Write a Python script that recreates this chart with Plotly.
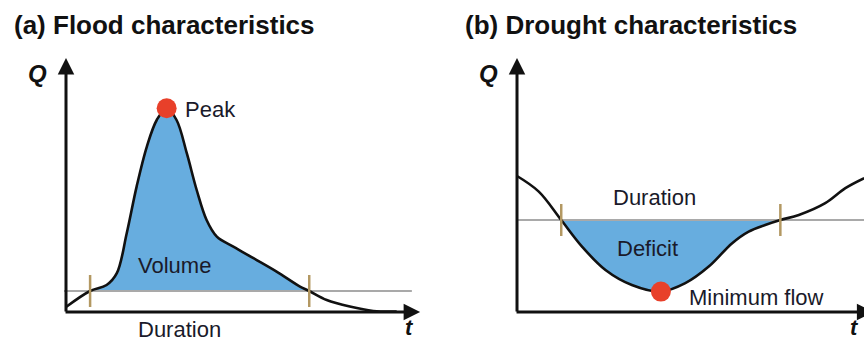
import plotly.graph_objects as go

# ---------------- data ----------------
# (a) Flood hydrograph
flood_t = [0.0, 0.73, 1.23, 1.54, 1.84, 2.14, 2.45, 2.75, 3.05, 3.35, 3.66, 3.96,
           4.26, 4.57, 5.07, 5.68, 6.38, 7.09, 7.37, 7.90, 8.60, 9.31, 10.02]
flood_q = [0.25, 1.05, 1.35, 1.94, 3.94, 6.27, 8.27, 9.60, 10.19, 9.60, 7.94, 6.10,
           4.60, 3.77, 3.27, 2.69, 2.02, 1.27, 1.05, 0.60, 0.27, 0.05, 0.02]
flood_threshold = 1.05
flood_start, flood_end = 0.73, 7.37
flood_peak = (3.05, 10.19)

# (b) Drought hydrograph
drought_t = [0.0, 0.66, 1.34, 1.97, 2.68, 3.48, 4.36, 5.10, 5.81, 6.52, 7.02, 7.52,
             7.98, 8.54, 9.34, 9.95, 10.52]
drought_q = [6.80, 6.02, 4.60, 3.27, 2.10, 1.35, 1.02, 1.44, 2.27, 3.44, 4.02, 4.35,
             4.60, 4.85, 5.44, 6.19, 6.69]
drought_threshold = 4.60
drought_start, drought_end = 1.34, 7.98
drought_min = (4.36, 1.02)

titles = ["(a) Flood characteristics", "(b) Drought characteristics"]

# ---------------- styles ----------------
FILL = "#67ADDF"
CURVE = "#111111"
THR = "#A9A9A9"
TICK = "#B39862"
DOT = "#E8402A"
FONT = "Liberation Sans, Arial, sans-serif"
LBL = dict(family=FONT, size=22, color="#1a1a2a")

fig = go.Figure()


def panel(xa, ya, t, q, thr, t1, t2, dot, x_end, thr_range):
    xr, yr = xa.replace("axis", ""), ya.replace("axis", "")
    sub = [(a, b) for a, b in zip(t, q) if t1 - 1e-9 <= a <= t2 + 1e-9]
    # fill between threshold and curve over the event
    fig.add_trace(go.Scatter(x=[t1, t2], y=[thr, thr], mode="lines",
                             line=dict(width=0, color=THR), xaxis=xr, yaxis=yr,
                             hoverinfo="skip", showlegend=False))
    fig.add_trace(go.Scatter(x=[s[0] for s in sub], y=[s[1] for s in sub], mode="lines",
                             line=dict(width=0, shape="spline", color=FILL),
                             fill="tonexty", fillcolor=FILL, xaxis=xr, yaxis=yr,
                             hoverinfo="skip", showlegend=False))
    # threshold line
    fig.add_trace(go.Scatter(x=list(thr_range), y=[thr, thr], mode="lines",
                             line=dict(width=2, color=THR), xaxis=xr, yaxis=yr,
                             hoverinfo="skip", showlegend=False))
    # hydrograph
    fig.add_trace(go.Scatter(x=t, y=q, mode="lines",
                             line=dict(width=2.6, shape="spline", color=CURVE),
                             xaxis=xr, yaxis=yr, hoverinfo="skip", showlegend=False))
    # duration ticks
    for tt in (t1, t2):
        fig.add_trace(go.Scatter(x=[tt, tt], y=[thr - 0.8, thr + 0.8], mode="lines",
                                 line=dict(width=2.5, color=TICK), xaxis=xr, yaxis=yr,
                                 hoverinfo="skip", showlegend=False))
    # peak / minimum dot
    fig.add_trace(go.Scatter(x=[dot[0]], y=[dot[1]], mode="markers",
                             marker=dict(size=20, color=DOT), xaxis=xr, yaxis=yr,
                             hoverinfo="skip", showlegend=False))
    # axes with arrows
    fig.add_annotation(x=0, y=12.7, ax=0, ay=-0.05, xref=xr, yref=yr, axref=xr, ayref=yr,
                       text="", showarrow=True, arrowhead=2, arrowsize=1.1,
                       arrowwidth=3, arrowcolor="#111111")
    fig.add_annotation(x=x_end, y=0, ax=-0.06, ay=0, xref=xr, yref=yr, axref=xr, ayref=yr,
                       text="", showarrow=True, arrowhead=2, arrowsize=1.1,
                       arrowwidth=3, arrowcolor="#111111")
    # axis letters
    fig.add_annotation(x=-0.85, y=11.95, xref=xr, yref=yr, text="<b><i>Q</i></b>",
                       showarrow=False, font=dict(family=FONT, size=24, color="#111111"))


panel("xaxis", "yaxis", flood_t, flood_q, flood_threshold, flood_start, flood_end,
      flood_peak, 10.73, (-0.06, 10.48))
panel("xaxis2", "yaxis2", drought_t, drought_q, drought_threshold, drought_start,
      drought_end, drought_min, 10.8, (0.0, 10.6))

# t labels
fig.add_annotation(x=10.42, y=-0.78, xref="x", yref="y", text="<b><i>t</i></b>",
                   showarrow=False, font=dict(family=FONT, size=22, color="#111111"))
fig.add_annotation(x=10.22, y=-0.78, xref="x2", yref="y2", text="<b><i>t</i></b>",
                   showarrow=False, font=dict(family=FONT, size=22, color="#111111"))

# panel (a) labels
fig.add_annotation(x=3.55, y=10.15, xref="x", yref="y", text="Peak", xanchor="left",
                   showarrow=False, font=LBL)
fig.add_annotation(x=3.30, y=2.35, xref="x", yref="y", text="Volume",
                   showarrow=False, font=LBL)
fig.add_annotation(x=3.45, y=-0.85, xref="x", yref="y", text="Duration",
                   showarrow=False, font=LBL)
# panel (b) labels
fig.add_annotation(x=4.18, y=5.75, xref="x2", yref="y2", text="Duration",
                   showarrow=False, font=LBL)
fig.add_annotation(x=3.94, y=3.2, xref="x2", yref="y2", text="Deficit",
                   showarrow=False, font=LBL)
fig.add_annotation(x=5.15, y=0.75, xref="x2", yref="y2", text="Minimum flow",
                   xanchor="left", showarrow=False, font=LBL)

# titles
fig.add_annotation(x=12 / 864, y=1 - 25 / 342, xref="paper", yref="paper",
                   text="<b>" + titles[0] + "</b>", xanchor="left", yanchor="middle",
                   showarrow=False, font=dict(family=FONT, size=26, color="#111111"))
fig.add_annotation(x=463 / 864, y=1 - 25 / 342, xref="paper", yref="paper",
                   text="<b>" + titles[1] + "</b>", xanchor="left", yanchor="middle",
                   showarrow=False, font=dict(family=FONT, size=26, color="#111111"))

hidden = dict(visible=False, showgrid=False, zeroline=False, fixedrange=True)
fig.update_layout(
    width=864, height=342,
    margin=dict(l=0, r=0, t=0, b=0),
    paper_bgcolor="white", plot_bgcolor="white",
    showlegend=False,
    xaxis=dict(domain=[0, 0.5], range=[-2.0, 11.09], **hidden),
    yaxis=dict(domain=[0, 1], range=[-1.5, 15.6], **hidden),
    xaxis2=dict(domain=[0.5, 1], range=[-2.576, 10.515], **hidden),
    yaxis2=dict(domain=[0, 1], range=[-1.5, 15.6], anchor="x2", **hidden),
)

fig.write_html("out.html", config={"displayModeBar": False},
               post_script="document.body.style.margin='0px';document.body.style.overflow='hidden';")
